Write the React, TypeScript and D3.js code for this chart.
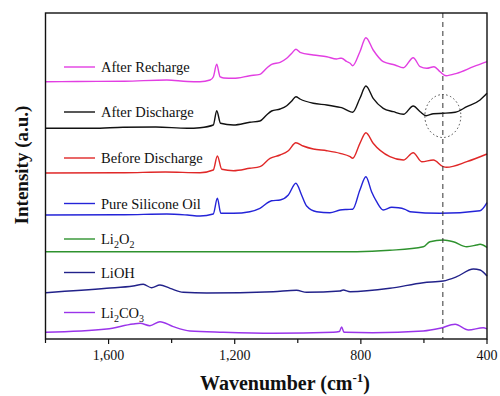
import React from "react";
import * as d3 from "d3";

type P = [number, number];

const afterRecharge: P[] = [
  [1800, 257.3], [1700, 257.5], [1550, 257.8], [1415, 259], [1350, 257.5], [1310, 257.3],
  [1278, 259], [1268, 262], [1257, 274.7], [1250, 266], [1247, 262.3], [1235, 261],
  [1204, 260.7], [1152, 263.3], [1120, 264.7], [1099, 270.7], [1083, 274.7], [1056, 276.7],
  [1035, 280.7], [1019, 285.7], [1006, 289.7], [993, 286.7], [951, 284], [908, 282.3],
  [877, 280], [866, 280.7], [861, 280.7], [845, 277.5], [834, 275.7], [826, 273.3],
  [803, 287.3], [784, 301.3], [761, 289], [729, 277.3], [692, 274], [665, 271.3],
  [634, 281.3], [612, 272.3], [591, 270.7], [568, 272.3], [549, 267.3], [530, 263.3],
  [496, 265.7], [443, 272.3], [400, 277.3],
];

const afterDischarge: P[] = [
  [1800, 210.7], [1650, 210.7], [1554, 211.7], [1450, 212], [1350, 210.7], [1310, 211.3],
  [1268, 214], [1257, 228.3], [1245, 215.7], [1204, 214], [1152, 216.7], [1120, 218],
  [1099, 224], [1083, 228], [1056, 230], [1035, 233.3], [1019, 238], [1006, 242.3],
  [993, 240], [951, 235.7], [908, 234], [877, 232.3], [861, 231.3], [834, 227.3],
  [826, 226.7], [803, 240.7], [784, 253], [761, 240.7], [729, 230.7], [697, 227.3],
  [665, 224.7], [634, 233], [612, 227.3], [593, 223.3], [570, 225.3], [539, 225.7],
  [501, 226.7], [464, 232.3], [422, 239], [400, 245.7],
];

const beforeDischarge: P[] = [
  [1800, 166], [1550, 166.3], [1420, 167], [1310, 166.3], [1268, 169], [1255, 183],
  [1241, 169.7], [1204, 168.3], [1152, 170.7], [1120, 172.3], [1088, 180.7], [1056, 184],
  [1030, 188.3], [1006, 196.3], [983, 193], [951, 190], [908, 188.3], [866, 185.7],
  [834, 182.3], [826, 180.7], [803, 195.7], [784, 206.3], [761, 195.7], [708, 182.3],
  [665, 179], [634, 186.3], [607, 177.3], [570, 179], [539, 172.3], [528, 171.7],
  [464, 177.3], [400, 185],
];

const pureSiliconeOil: P[] = [
  [1800, 124], [1550, 124.3], [1415, 125], [1350, 124], [1310, 123], [1268, 125],
  [1255, 140.7], [1244, 125.7], [1204, 125.7], [1152, 127.3], [1120, 130.7], [1083, 138.3],
  [1056, 139], [1030, 144], [1006, 155.7], [988, 144], [972, 133], [940, 127.3],
  [898, 126.3], [866, 129], [845, 129.5], [826, 129.7], [803, 149], [784, 162.3],
  [766, 147.3], [750, 137.3], [729, 129], [702, 131.7], [681, 131.3], [660, 129.7],
  [644, 127.3], [549, 125.7], [422, 128.3], [400, 136.3],
];

const li2o2: P[] = [
  [1800, 87.3], [813, 87.3], [708, 88.7], [602, 92.3], [581, 97.3], [539, 99],
  [507, 97.3], [464, 92.3], [433, 94], [422, 94.7], [400, 91.5],
];

const lioh: P[] = [
  [1800, 46.3], [1606, 50.7], [1522, 53], [1490, 54.7], [1464, 51.3], [1437, 54],
  [1405, 50.7], [1363, 46.7], [1289, 46], [1078, 47.3], [1004, 48.7], [972, 46.7],
  [866, 48], [856, 49], [834, 47.3], [708, 50.7], [602, 56.3], [539, 58], [496, 62.3],
  [443, 70], [422, 69], [400, 63],
];

const li2co3: P[] = [
  [1800, 6.7], [1606, 10], [1522, 15], [1500, 15.7], [1469, 13.3], [1437, 17.3],
  [1395, 12.3], [1342, 8], [1236, 6.7], [1078, 5.7], [887, 6.7], [868, 7.5], [861, 12],
  [854, 7], [850, 6.7], [763, 6.3], [602, 8], [549, 10.7], [501, 14.7], [459, 9],
  [412, 11.3], [400, 10],
];

const seriesData: P[][] = [afterRecharge, afterDischarge, beforeDischarge, pureSiliconeOil, li2o2, lioh, li2co3];
const seriesNames: string[][] = [
  ["After Recharge"], ["After Discharge"], ["Before Discharge"], ["Pure Silicone Oil"],
  ["Li", "2", "O", "2"], ["LiOH"], ["Li", "2", "CO", "3"],
];
const seriesColors = ["#e23ee2", "#111111", "#e02828", "#2424d8", "#2e922e", "#22228a", "#9a34ea"];
const legendLevels = [272, 227, 181, 135.5, 100, 66.5, 26.5];

const majorTicks = [1600, 1200, 800, 400];
const minorTicks = [1800, 1400, 1000, 600];
const markerWavenumber = 540;
const circleCenter: P = [540, 223];

export default function App() {
  const W = 500, H = 396;
  const left = 45.5, right = 487, top = 13, bottom = 339;
  const x = d3.scaleLinear().domain([1800, 400]).range([left, right]);
  const y = d3.scaleLinear().domain([0, 326]).range([bottom, top]);
  const line = d3.line<P>().x((d) => x(d[0])).y((d) => y(d[1])).curve(d3.curveMonotoneX);
  const fmt = d3.format(",");
  const font = "'Liberation Serif', 'Times New Roman', serif";

  return (
    <svg width={W} height={H} style={{ position: "absolute", left: 0, top: 0, background: "#fff" }} fontFamily={font}>
      <rect x={0} y={0} width={W} height={H} fill="#fff" />
      {seriesData.map((s, i) => (
        <path key={i} d={line(s) || ""} fill="none" stroke={seriesColors[i]} strokeWidth={1.4} strokeLinejoin="round" />
      ))}
      <line x1={x(markerWavenumber)} x2={x(markerWavenumber)} y1={top} y2={bottom} stroke="#333" strokeWidth={1} strokeDasharray="5,4" />
      <ellipse cx={x(circleCenter[0])} cy={y(circleCenter[1])} rx={18} ry={21.5} fill="none" stroke="#444" strokeWidth={1} strokeDasharray="1.5,2.5" />
      {seriesNames.map((parts, i) => {
        const ly = y(legendLevels[i]);
        return (
          <g key={i}>
            <line x1={64} x2={95} y1={ly} y2={ly} stroke={seriesColors[i]} strokeWidth={1.4} />
            <text x={101} y={ly + 5} fontSize={14.5} fill="#111">
              {parts.length === 1
                ? parts[0]
                : parts.map((p, j) =>
                    j % 2 === 1 ? (
                      <tspan key={j} fontSize={10} dy={4}>{p}</tspan>
                    ) : (
                      <tspan key={j} dy={j === 0 ? 0 : -4}>{p}</tspan>
                    )
                  )}
            </text>
          </g>
        );
      })}
      <rect x={left} y={top} width={right - left} height={bottom - top} fill="none" stroke="#111" strokeWidth={1.4} />
      {majorTicks.map((t) => (
        <g key={"M" + t}>
          <line x1={x(t)} x2={x(t)} y1={bottom} y2={bottom + 5} stroke="#111" strokeWidth={1.2} />
          <text x={x(t)} y={360} fontSize={14} textAnchor="middle" fill="#111">{fmt(t)}</text>
        </g>
      ))}
      {minorTicks.map((t) => (
        <line key={"m" + t} x1={x(t)} x2={x(t)} y1={bottom} y2={bottom + 4} stroke="#111" strokeWidth={1.2} />
      ))}
      <text x={285} y={390} fontSize={20} fontWeight="bold" textAnchor="middle" fill="#111">
        Wavenumber (cm<tspan fontSize={13} dy={-8}>-1</tspan><tspan dy={8}>)</tspan>
      </text>
      <text transform="translate(28,165) rotate(-90)" fontSize={19} fontWeight="bold" textAnchor="middle" fill="#111">
        Intensity (a.u.)
      </text>
    </svg>
  );
}
